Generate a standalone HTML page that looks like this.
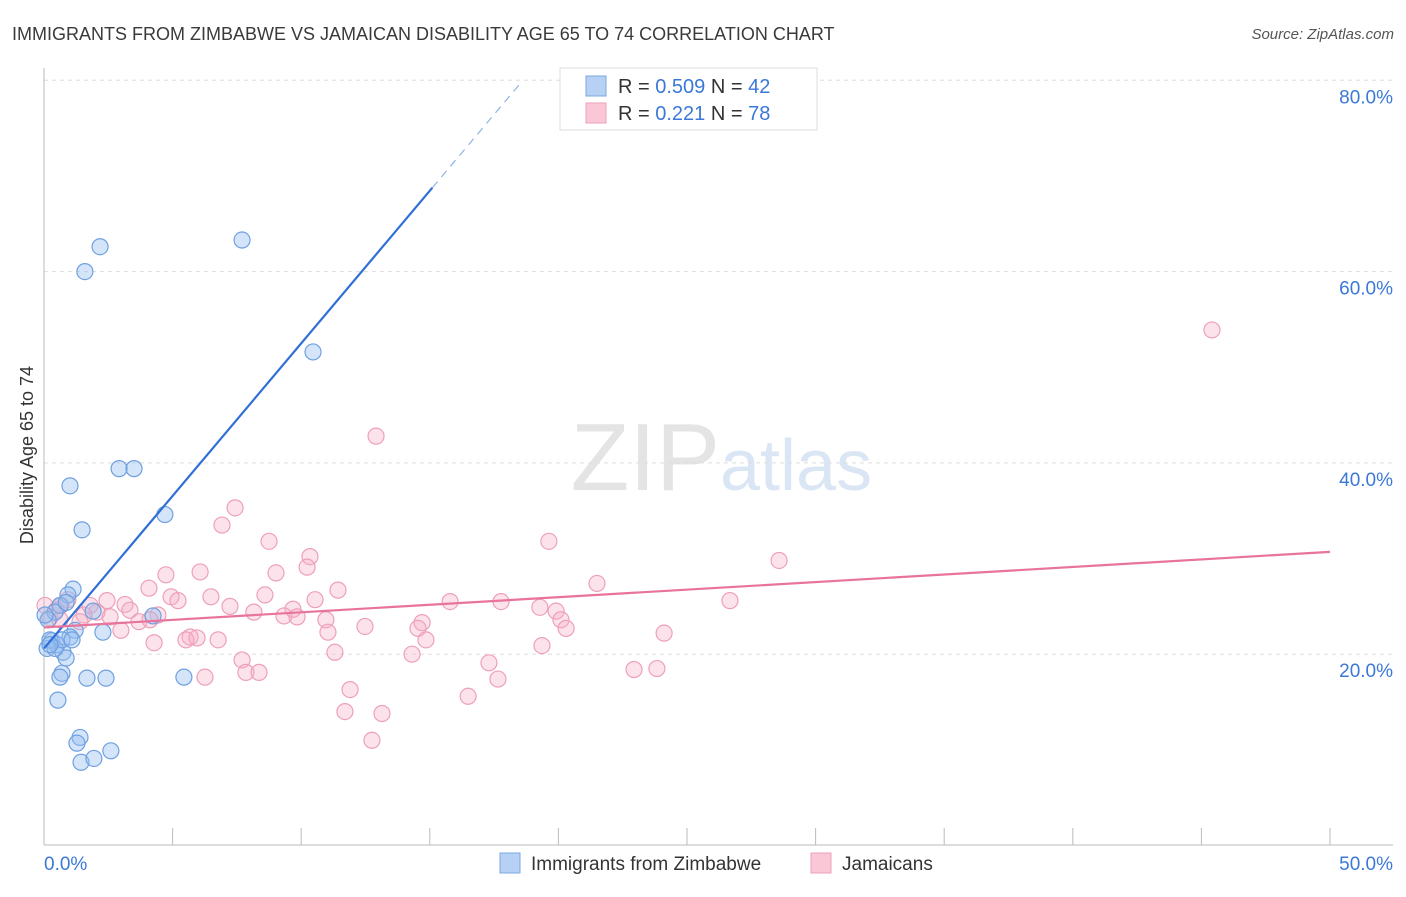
<!DOCTYPE html>
<html><head><meta charset="utf-8"><style>
body{margin:0;background:#fff;font-family:"Liberation Sans",sans-serif}
svg text{font-family:"Liberation Sans",sans-serif}
</style></head><body>
<svg width="1406" height="892" xmlns="http://www.w3.org/2000/svg">
<text x="12" y="40" font-size="18" fill="#3a3a3a">IMMIGRANTS FROM ZIMBABWE VS JAMAICAN DISABILITY AGE 65 TO 74 CORRELATION CHART</text>
<text x="1394" y="39" font-size="15" fill="#555" text-anchor="end" font-style="italic">Source: ZipAtlas.com</text>
<text x="720" y="490" font-size="96" fill="#e4e4e4" text-anchor="end" font-family="Liberation Serif">ZIP</text>
<text x="720" y="490" font-size="72" fill="#dbe6f5">atlas</text>
<g id="grid"></g><g id="axes"></g><g id="pts"></g><g id="lines"></g>
<text x="33" y="455" font-size="18" fill="#333" text-anchor="middle" transform="rotate(-90 33 455)">Disability Age 65 to 74</text>
<g>
<rect x="560" y="68" width="257" height="62" fill="#fff" stroke="#ddd"/>
<rect x="586" y="76" width="20" height="20" fill="#b7d1f5" stroke="#7ba7e0"/>
<rect x="586" y="103" width="20" height="20" fill="#f9c7d6" stroke="#eea0b8"/>
<text x="618" y="93" font-size="20" fill="#333">R = <tspan fill="#3b78d8">0.509</tspan>   N = <tspan fill="#3b78d8">42</tspan></text>
<text x="618" y="120" font-size="20" fill="#333">R =  <tspan fill="#3b78d8">0.221</tspan>   N = <tspan fill="#3b78d8">78</tspan></text>
</g>
<g>
<rect x="500" y="853" width="20" height="20" fill="#b7d1f5" stroke="#7ba7e0"/>
<text x="531" y="870" font-size="19" fill="#333">Immigrants from Zimbabwe</text>
<rect x="811" y="853" width="20" height="20" fill="#f9c7d6" stroke="#eea0b8"/>
<text x="842" y="870" font-size="19" fill="#333">Jamaicans</text>
</g>
</svg>
<script>
const blueX=[2.18,7.70,1.59,10.46,2.92,3.50,1.01,4.70,1.48,1.13,0.93,0.62,0.43,1.91,4.24,0.16,1.21,2.29,1.01,0.31,0.51,0.12,0.74,0.86,0.70,0.62,1.67,2.41,5.44,0.54,1.40,1.28,1.44,1.94,2.60,0.23,0.43,0.70,0.04,0.86,1.09,0.23];
const blueY=[62.6,63.3,60.0,51.6,39.4,39.4,37.6,34.6,33.0,26.8,26.2,25.1,24.4,24.5,24.0,23.6,22.5,22.3,21.8,21.4,21.0,20.6,20.2,19.6,18.0,17.6,17.5,17.5,17.6,15.2,11.3,10.7,8.7,9.1,9.9,21.5,20.6,21.5,24.1,25.4,21.5,21.0];
const pinkX=[45.41,12.91,7.43,6.92,19.63,8.75,10.34,28.58,10.23,4.74,6.07,9.02,21.50,4.08,11.43,8.59,6.49,4.94,5.21,26.67,17.77,15.79,10.54,2.45,3.15,0.66,0.47,0.04,7.23,19.28,19.91,9.68,2.06,3.34,8.16,3.69,4.43,1.56,2.57,9.33,9.84,10.96,14.70,20.10,14.54,20.30,2.99,12.48,11.04,5.68,5.52,5.95,6.77,24.11,4.28,14.85,19.36,11.31,14.31,7.70,7.85,8.36,17.30,22.94,23.83,6.26,17.65,11.90,16.49,11.70,13.14,12.75,1.79,0.93,4.12,1.40,0.23,0.62];
const pinkY=[53.9,42.8,35.3,33.5,31.8,31.8,30.2,29.8,29.1,28.3,28.6,28.5,27.4,26.9,26.7,26.2,26.0,26.0,25.6,25.6,25.5,25.5,25.7,25.6,25.2,25.1,24.6,25.1,25.0,24.9,24.5,24.7,24.4,24.6,24.4,23.4,24.1,24.1,23.9,24.0,23.9,23.6,23.3,23.6,22.7,22.7,22.5,22.9,22.3,21.8,21.5,21.7,21.5,22.2,21.2,21.5,20.9,20.2,20.0,19.4,18.1,18.1,19.1,18.4,18.5,17.6,17.4,16.3,15.6,14.0,13.8,11.0,25.1,25.7,23.6,23.4,23.8,23.6];
const yTicks=[20,40,60,80];
const yTickLabels=["20.0%","40.0%","60.0%","80.0%"];
const xTicks=[0,5,10,15,20,25,30,35,40,45,50];
const blueLine=[20.6,3.19]; // intercept, slope
const pinkLine=[22.8,30.7]; // y at x=0, y at x=50
const NS="http://www.w3.org/2000/svg";
const X=v=>44+v/50*1286, Y=v=>845.5-v/20*191.3;
function mk(p,tag,a){const e=document.createElementNS(NS,tag);for(const k in a)e.setAttribute(k,a[k]);document.getElementById(p).appendChild(e);return e;}
yTicks.forEach((t,i)=>{
 let l=mk('grid','line',{x1:44,x2:1393,y1:Y(t),y2:Y(t),stroke:'#ddd','stroke-dasharray':'4 4'});
 
 
 let tx=mk('grid','text',{x:1393,y:Y(t)+23,'font-size':19,fill:'#3b78d8','text-anchor':'end'});
 tx.textContent=yTickLabels[i];
 
 
});
let ax=mk('axes','line',{x1:44,x2:44,y1:68,y2:845,stroke:'#bbb'});


let bx=mk('axes','line',{x1:44,x2:1393,y1:845,y2:845,stroke:'#bbb'});


xTicks.forEach(t=>{let l=mk('axes','line',{x1:X(t),x2:X(t),y1:828,y2:845,stroke:'#bbb'});
 
 });
let x0=mk('axes','text',{x:44,y:870,'font-size':19,fill:'#3b78d8'});x0.textContent='0.0%';


let x1=mk('axes','text',{x:1393,y:870,'font-size':19,fill:'#3b78d8','text-anchor':'end'});x1.textContent='50.0%';


pinkX.forEach((v,i)=>{let c=mk('pts','circle',{cx:X(v),cy:Y(pinkY[i]),r:8,fill:'rgba(245,175,198,0.35)',stroke:'#eea0b8','stroke-width':1.2});
 
 });
blueX.forEach((v,i)=>{let c=mk('pts','circle',{cx:X(v),cy:Y(blueY[i]),r:8,fill:'rgba(150,190,240,0.4)',stroke:'#6fa0e0','stroke-width':1.2});
 
 });
const bl=x=>blueLine[0]+blueLine[1]*x;
let b1=mk('lines','line',{x1:X(0),y1:Y(bl(0)),x2:X(15.1),y2:Y(bl(15.1)),stroke:'#2f6fd6','stroke-width':2.2});


let b2=mk('lines','line',{x1:X(15.1),y1:Y(bl(15.1)),x2:X(18.5),y2:Y(bl(18.5)),stroke:'#8fb4e8','stroke-width':1.2,'stroke-dasharray':'8 6'});


let p1=mk('lines','line',{x1:X(0),y1:Y(pinkLine[0]),x2:X(50),y2:Y(pinkLine[1]),stroke:'#e8739b','stroke-width':2.2});


</script>
</body></html>
